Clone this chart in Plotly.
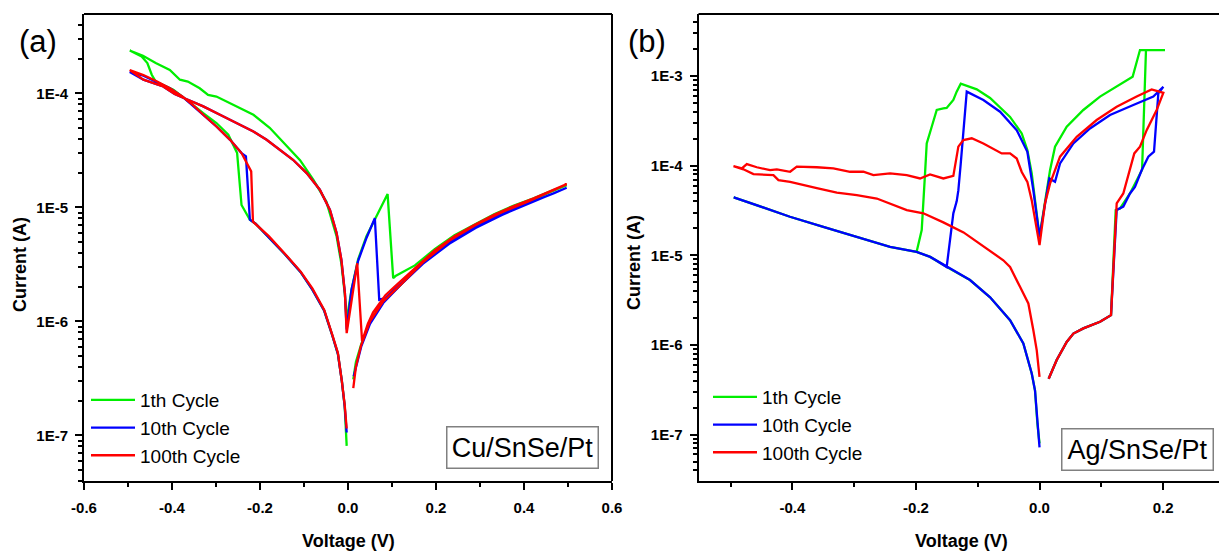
import plotly.graph_objects as go

# ---------------- data: panel (a) Cu/SnSe/Pt ----------------
a_green_v = [-0.003, -0.0075, -0.014, -0.023, -0.036, -0.054, -0.081, -0.108, -0.144, -0.18, -0.21, -0.223,
             -0.242, -0.252, -0.272, -0.299, -0.329, -0.367, -0.397, -0.437, -0.446, -0.456, -0.469, -0.496,
             -0.466, -0.437, -0.405, -0.382, -0.364, -0.337, -0.318, -0.299, -0.276, -0.246, -0.215, -0.178,
             -0.14, -0.109, -0.079, -0.049, -0.026, -0.015, -0.007, -0.003,
             0.008, 0.023, 0.042, 0.065, 0.09, 0.1027, 0.108, 0.152, 0.197, 0.242, 0.287, 0.332, 0.377, 0.422,
             0.467, 0.497, 0.46, 0.41, 0.35, 0.29, 0.23, 0.17, 0.12, 0.08, 0.05, 0.03, 0.018, 0.012]
a_green_i = [8.1e-8, 1.8e-7, 3.0e-7, 5.2e-7, 7.6e-7, 1.24e-6, 1.9e-6, 2.72e-6, 3.9e-6, 5.5e-6, 7.2e-6, 7.8e-6,
             1.05e-5, 3.0e-5, 4.34e-5, 5.5e-5, 6.7e-5, 8.8e-5, 1.08e-4, 1.27e-4, 1.46e-4, 1.85e-4, 2.11e-4, 2.38e-4,
             2.14e-4, 1.85e-4, 1.61e-4, 1.32e-4, 1.27e-4, 1.11e-4, 9.7e-5, 9.4e-5, 8.5e-5, 7.4e-5, 6.5e-5, 5.0e-5,
             3.5e-5, 2.6e-5, 1.75e-5, 1.12e-5, 5.6e-6, 3.2e-6, 1.7e-6, 1.03e-6,
             1.9e-6, 3.5e-6, 5.6e-6, 8.3e-6, 1.31e-5, 2.4e-6, 2.5e-6, 3.1e-6, 4.3e-6, 5.7e-6, 7.1e-6, 8.7e-6,
             1.04e-5, 1.2e-5, 1.42e-5, 1.57e-5, 1.37e-5, 1.12e-5, 9.0e-6, 6.9e-6, 5.0e-6, 3.3e-6, 2.1e-6,
             1.5e-6, 1.0e-6, 6.3e-7, 4.4e-7, 3.1e-7]

a_blue_v = [-0.003, -0.0075, -0.014, -0.023, -0.036, -0.054, -0.081, -0.108, -0.144, -0.18, -0.21, -0.223,
            -0.232, -0.242, -0.268, -0.299, -0.329, -0.352, -0.375, -0.405, -0.435, -0.465, -0.496,
            -0.465, -0.42, -0.394, -0.364, -0.329, -0.291, -0.253, -0.215, -0.185, -0.155, -0.125, -0.094,
            -0.064, -0.041, -0.026, -0.015, -0.007, -0.003,
            0.008, 0.023, 0.042, 0.061, 0.071, 0.085, 0.108, 0.152, 0.197, 0.242, 0.287, 0.332, 0.377, 0.422,
            0.467, 0.497, 0.46, 0.41, 0.35, 0.29, 0.23, 0.17, 0.12, 0.08, 0.05, 0.03, 0.02, 0.013]
a_blue_i = [1.06e-7, 1.8e-7, 3.0e-7, 5.2e-7, 7.6e-7, 1.24e-6, 1.9e-6, 2.72e-6, 3.9e-6, 5.5e-6, 7.2e-6, 7.8e-6,
            2.8e-5, 3.0e-5, 3.92e-5, 5.13e-5, 6.5e-5, 7.9e-5, 9.3e-5, 1.11e-4, 1.27e-4, 1.43e-4, 1.54e-4,
            1.32e-4, 1.15e-4, 9.9e-5, 8.8e-5, 7.7e-5, 6.5e-5, 5.5e-5, 4.63e-5, 3.92e-5, 3.2e-5, 2.62e-5, 2.0e-5,
            1.43e-5, 9.5e-6, 6.0e-6, 3.47e-6, 1.77e-6, 8.5e-7,
            1.9e-6, 3.4e-6, 5.4e-6, 8.05e-6, 1.55e-6, 1.6e-6, 1.95e-6, 2.8e-6, 4.0e-6, 5.3e-6, 6.6e-6, 8.1e-6,
            9.7e-6, 1.13e-5, 1.33e-5, 1.49e-5, 1.3e-5, 1.07e-5, 8.6e-6, 6.6e-6, 4.8e-6, 3.2e-6, 2.1e-6,
            1.45e-6, 9.5e-7, 6.0e-7, 4.3e-7, 3.3e-7]

a_red_v = [-0.003, -0.0075, -0.014, -0.023, -0.036, -0.054, -0.081, -0.108, -0.144, -0.18, -0.216,
           -0.22, -0.234, -0.242, -0.268, -0.299, -0.329, -0.352, -0.375, -0.405, -0.435, -0.465, -0.496,
           -0.465, -0.42, -0.394, -0.364, -0.329, -0.291, -0.253, -0.215, -0.185, -0.155, -0.125, -0.094,
           -0.064, -0.041, -0.026, -0.015, -0.007, -0.003,
           0.021, 0.032, 0.045, 0.057, 0.085, 0.108, 0.152, 0.197, 0.242, 0.287, 0.332, 0.377, 0.422,
           0.467, 0.497, 0.46, 0.41, 0.35, 0.29, 0.23, 0.17, 0.12, 0.08, 0.05, 0.03, 0.018, 0.012]
a_red_i = [1.15e-7, 1.85e-7, 3.0e-7, 5.3e-7, 7.7e-7, 1.26e-6, 1.95e-6, 2.75e-6, 3.95e-6, 5.6e-6, 7.5e-6,
           2.07e-5, 2.62e-5, 3.0e-5, 3.92e-5, 5.13e-5, 6.5e-5, 7.9e-5, 9.3e-5, 1.11e-4, 1.28e-4, 1.45e-4, 1.6e-4,
           1.32e-4, 1.15e-4, 9.9e-5, 8.8e-5, 7.7e-5, 6.5e-5, 5.5e-5, 4.63e-5, 3.92e-5, 3.2e-5, 2.62e-5, 2.0e-5,
           1.43e-5, 9.5e-6, 6.0e-6, 3.47e-6, 1.77e-6, 7.9e-7,
           3.24e-6, 6.7e-7, 9.5e-7, 1.2e-6, 1.7e-6, 2.05e-6, 2.95e-6, 4.2e-6, 5.6e-6, 7.0e-6, 8.6e-6,
           1.03e-5, 1.2e-5, 1.42e-5, 1.6e-5, 1.38e-5, 1.13e-5, 9.1e-6, 7.0e-6, 5.1e-6, 3.3e-6, 2.1e-6,
           1.5e-6, 1.0e-6, 6.2e-7, 4.0e-7, 2.6e-7]

# ---------------- data: panel (b) Ag/SnSe/Pt ----------------
b_green_v = [0.0, -0.002, -0.0035, -0.0073, -0.0126, -0.0262, -0.0477, -0.08, -0.1125, -0.145, -0.177, -0.199,
             -0.242, -0.296, -0.35, -0.404, -0.458, -0.495,
             -0.458, -0.404, -0.35, -0.296, -0.242, -0.199,
             -0.1907, -0.1853, -0.1826, -0.1745, -0.1664, -0.1557, -0.1503, -0.1395, -0.1341, -0.1275,
             -0.1016, -0.0801, -0.0477, -0.0288, -0.0197, -0.0126, -0.0057, 0.0,
             0.017, 0.0251, 0.044, 0.0709, 0.0979, 0.1249, 0.1507, 0.1626, 0.2031,
             0.1723, 0.166, 0.1545, 0.1464, 0.1303, 0.1233, 0.1157, 0.0979, 0.0709, 0.0548, 0.044, 0.0278, 0.0148]
b_green_i = [8.0e-8, 1.1e-7, 1.33e-7, 3.1e-7, 4.8e-7, 1.04e-6, 1.89e-6, 3.4e-6, 5.3e-6, 7.1e-6, 9.6e-6, 1.09e-5,
             1.24e-5, 1.61e-5, 2.08e-5, 2.69e-5, 3.63e-5, 4.43e-5,
             3.63e-5, 2.69e-5, 2.08e-5, 1.61e-5, 1.24e-5, 1.09e-5,
             1.91e-5, 8.2e-5, 1.77e-4, 2.72e-4, 4.18e-4, 4.36e-4, 4.4e-4, 5.4e-4, 6.7e-4, 8.2e-4,
             7.1e-4, 5.7e-4, 3.5e-4, 2.29e-4, 1.49e-4, 8.2e-5, 3.5e-5, 1.61e-5,
             8.9e-5, 1.63e-4, 2.72e-4, 4.18e-4, 5.9e-4, 7.6e-4, 9.8e-4, 1.95e-3, 1.95e-3,
             1.95e-3, 9.0e-5, 6.3e-5, 4.9e-5, 3.33e-5, 3.2e-5, 2.15e-6, 1.81e-6, 1.53e-6, 1.34e-6, 1.08e-6,
             6.8e-7, 4.2e-7]

b_blue_v = [0.0, -0.002, -0.0035, -0.0073, -0.0126, -0.0262, -0.0477, -0.08, -0.1125, -0.145, -0.177, -0.199,
            -0.242, -0.296, -0.35, -0.404, -0.458, -0.495,
            -0.458, -0.404, -0.35, -0.296, -0.242, -0.199, -0.177, -0.1503,
            -0.1395, -0.1341, -0.1314, -0.1275, -0.1178,
            -0.0909, -0.0639, -0.0369, -0.0197, -0.01, -0.0035, 0.0,
            0.0159, 0.0251, 0.0332, 0.0548, 0.0817, 0.1141, 0.1518, 0.1842, 0.2004,
            0.1923, 0.1853, 0.1761, 0.1653, 0.1545, 0.1464, 0.1356, 0.1249, 0.1157, 0.0979, 0.0709, 0.0548,
            0.044, 0.0278, 0.0148]
b_blue_i = [7.2e-8, 1.1e-7, 1.33e-7, 3.1e-7, 4.8e-7, 1.04e-6, 1.89e-6, 3.4e-6, 5.3e-6, 7.1e-6, 9.6e-6, 1.09e-5,
            1.24e-5, 1.61e-5, 2.08e-5, 2.69e-5, 3.63e-5, 4.43e-5,
            3.63e-5, 2.69e-5, 2.08e-5, 1.61e-5, 1.24e-5, 1.09e-5, 9.6e-6, 7.4e-6,
            2.94e-5, 4.0e-5, 5.3e-5, 1.06e-4, 6.7e-4,
            5.4e-4, 4.0e-4, 2.49e-4, 1.43e-4, 5.3e-5, 2.47e-5, 1.61e-5,
            7.2e-5, 6.6e-5, 1.06e-4, 1.77e-4, 2.6e-4, 3.67e-4, 4.75e-4, 5.9e-4, 7.6e-4,
            6.4e-4, 1.43e-4, 1.26e-4, 8.9e-5, 5.8e-5, 4.9e-5, 3.5e-5, 3.2e-5, 2.15e-6, 1.81e-6, 1.53e-6,
            1.34e-6, 1.08e-6, 6.8e-7, 4.2e-7]

b_red_v = [0.0, -0.0045, -0.01, -0.0181, -0.0316, -0.0477, -0.0586, -0.082, -0.102, -0.123, -0.1557, -0.188,
           -0.2149, -0.2419, -0.2634, -0.2958, -0.3281, -0.3605, -0.4037, -0.4226, -0.4307, -0.4631, -0.4793,
           -0.4954,
           -0.4819, -0.4738, -0.4576, -0.4361, -0.4252, -0.4037, -0.3929, -0.3605, -0.3337, -0.3066, -0.2851,
           -0.2689, -0.2419, -0.2149, -0.1934, -0.1772, -0.1557, -0.1395, -0.1314, -0.1233, -0.1097,
           -0.0909, -0.0612, -0.0477, -0.0369, -0.0288, -0.0197, -0.0126, -0.0057, 0.0,
           0.0089, 0.017, 0.0332, 0.0602, 0.0925, 0.1249, 0.1572, 0.1815, 0.2004,
           0.1896, 0.1734, 0.1626, 0.1534, 0.1464, 0.1356, 0.1249, 0.1157, 0.0979, 0.0709, 0.0548, 0.044,
           0.0278, 0.0148]
b_red_i = [4.4e-7, 8.7e-7, 1.46e-6, 2.9e-6, 4.45e-6, 7.4e-6, 8.8e-6, 1.15e-5, 1.42e-5, 1.8e-5, 2.33e-5, 2.94e-5,
           3.19e-5, 3.8e-5, 4.3e-5, 4.7e-5, 5.0e-5, 5.6e-5, 6.6e-5, 6.9e-5, 7.85e-5, 8.05e-5, 9.1e-5,
           9.9e-5,
           9.33e-5, 1.04e-4, 9.6e-5, 8.9e-5, 9.1e-5, 8.55e-5, 9.75e-5, 9.6e-5, 9.33e-5, 8.55e-5, 8.55e-5,
           7.85e-5, 8.2e-5, 7.85e-5, 7.2e-5, 8.0e-5, 7.2e-5, 7.7e-5, 1.63e-4, 1.93e-4, 2.02e-4,
           1.77e-4, 1.37e-4, 1.37e-4, 1.2e-4, 8.5e-5, 6.6e-5, 4.1e-5, 2.27e-5, 1.3e-5,
           3.8e-5, 6.3e-5, 1.26e-4, 2.1e-4, 3.23e-4, 4.55e-4, 5.9e-4, 7.1e-4, 6.5e-4,
           4.18e-4, 2.49e-4, 1.63e-4, 1.37e-4, 8.9e-5, 4.9e-5, 3.8e-5, 2.15e-6, 1.81e-6, 1.53e-6, 1.34e-6,
           1.08e-6, 6.8e-7, 4.2e-7]

series_names = ["1th Cycle", "10th Cycle", "100th Cycle"]
series_colors = ["#00ee00", "#0000ff", "#ff0000"]

a_xtick_vals = [-0.6, -0.4, -0.2, 0.0, 0.2, 0.4, 0.6]
a_xtick_text = ["-0.6", "-0.4", "-0.2", "0.0", "0.2", "0.4", "0.6"]
b_xtick_vals = [-0.4, -0.2, 0.0, 0.2]
b_xtick_text = ["-0.4", "-0.2", "0.0", "0.2"]
a_ytick_vals = [1e-7, 1e-6, 1e-5, 1e-4]
a_ytick_text = ["1E-7", "1E-6", "1E-5", "1E-4"]
b_ytick_vals = [1e-7, 1e-6, 1e-5, 1e-4, 1e-3]
b_ytick_text = ["1E-7", "1E-6", "1E-5", "1E-4", "1E-3"]

W, H = 1219, 554
FONT = "Liberation Sans, Arial, sans-serif"

fig = go.Figure()

a_data = [(a_green_v, a_green_i), (a_blue_v, a_blue_i), (a_red_v, a_red_i)]
b_data = [(b_green_v, b_green_i), (b_blue_v, b_blue_i), (b_red_v, b_red_i)]
for (v, i), name, col in zip(a_data, series_names, series_colors):
    fig.add_trace(go.Scatter(x=v, y=i, mode="lines", name=name, line=dict(color=col, width=2.3),
                             xaxis="x", yaxis="y", legend="legend"))
for (v, i), name, col in zip(b_data, series_names, series_colors):
    fig.add_trace(go.Scatter(x=v, y=i, mode="lines", name=name, line=dict(color=col, width=2.3),
                             xaxis="x2", yaxis="y2", legend="legend2"))

minor_y = []
for e in range(-9, -1):
    for m in range(2, 10):
        minor_y.append(m * 10.0 ** e)

tickfont = dict(family=FONT, size=15, color="black", weight="bold")

def xaxis(dom, rng, vals, text, anchor):
    return dict(domain=dom, range=rng, anchor=anchor, tickmode="array", tickvals=vals, ticktext=text,
                ticks="outside", ticklen=7, tickwidth=2, tickcolor="black",
                showline=True, linecolor="black", linewidth=2, mirror=False,
                showgrid=False, zeroline=False, tickfont=tickfont, ticklabelstandoff=5,
                automargin=False,
                minor=dict(dtick=0.1, tick0=0, ticks="outside", ticklen=4, tickwidth=1.5,
                           tickcolor="black", showgrid=False))

def yaxis(dom, rng, vals, text, anchor):
    return dict(domain=dom, type="log", range=rng, anchor=anchor, tickmode="array",
                tickvals=vals, ticktext=text, ticks="outside", ticklen=7, tickwidth=2,
                tickcolor="black", showline=True, linecolor="black", linewidth=2, mirror=False,
                showgrid=False, zeroline=False, tickfont=tickfont, ticklabelstandoff=4,
                automargin=False,
                minor=dict(tickmode="array", tickvals=minor_y, ticks="outside", ticklen=4,
                           tickwidth=1.5, tickcolor="black", showgrid=False))

ydom = [1 - 481 / H, 1 - 14 / H]
ax_a = [84 / W, 612 / W]
ax_b = [698.5 / W, 1.0]
fig.update_layout(
    width=W, height=H, margin=dict(l=0, r=0, t=0, b=0, autoexpand=False),
    paper_bgcolor="white", plot_bgcolor="white",
    xaxis=xaxis(ax_a, [-0.6, 0.6], a_xtick_vals, a_xtick_text, "y"),
    yaxis=yaxis(ydom, [-7.4, -3.303], a_ytick_vals, a_ytick_text, "x"),
    xaxis2=xaxis(ax_b, [-0.552, 0.2905], b_xtick_vals, b_xtick_text, "y2"),
    yaxis2=yaxis(ydom, [-7.518, -2.308], b_ytick_vals, b_ytick_text, "x2"),
    legend=dict(x=86 / W, y=1 - 381 / H, xanchor="left", yanchor="top", bgcolor="rgba(0,0,0,0)",
                font=dict(family=FONT, size=19, color="black"), itemwidth=44, tracegroupgap=0),
    legend2=dict(x=708 / W, y=1 - 378 / H, xanchor="left", yanchor="top", bgcolor="rgba(0,0,0,0)",
                 font=dict(family=FONT, size=19, color="black"), itemwidth=44, tracegroupgap=0),
)

# frame lines (top of both panels, right side of left panel)
frame = [
    (ax_a[0], ydom[1], ax_a[1], ydom[1]),
    (ax_a[1], ydom[0], ax_a[1], ydom[1]),
    (ax_b[0], ydom[1], ax_b[1], ydom[1]),
]
for x0, y0, x1, y1 in frame:
    fig.add_shape(type="line", xref="paper", yref="paper", x0=x0, y0=y0, x1=x1, y1=y1,
                  line=dict(color="black", width=2), layer="above")

ann = []
ann.append(dict(text="(a)", x=38 / W, y=1 - 42 / H))
ann.append(dict(text="(b)", x=647 / W, y=1 - 42 / H))
for a in ann:
    a.update(font=dict(family=FONT, size=31, color="black"))
for xc, yc in [(20, 265), (634, 263)]:
    ann.append(dict(text="Current (A)", x=xc / W, y=1 - yc / H, textangle=-90,
                    font=dict(family=FONT, size=18, color="black", weight="bold")))
for xc in [348, 961.5]:
    ann.append(dict(text="Voltage (V)", x=xc / W, y=1 - 541 / H,
                    font=dict(family=FONT, size=18, color="black", weight="bold")))
for txt, xc, yc in [("Cu/SnSe/Pt", 522.5, 448), ("Ag/SnSe/Pt", 1137.6, 449.7)]:
    ann.append(dict(text=txt, x=xc / W, y=1 - yc / H, width=150, height=40,
                    bordercolor="#808080", borderwidth=1.5, borderpad=0, bgcolor="white",
                    font=dict(family=FONT, size=27, color="black")))
for a in ann:
    a.update(xref="paper", yref="paper", showarrow=False, xanchor="center", yanchor="middle")
fig.update_layout(annotations=ann)

fig.write_html("out.html")
